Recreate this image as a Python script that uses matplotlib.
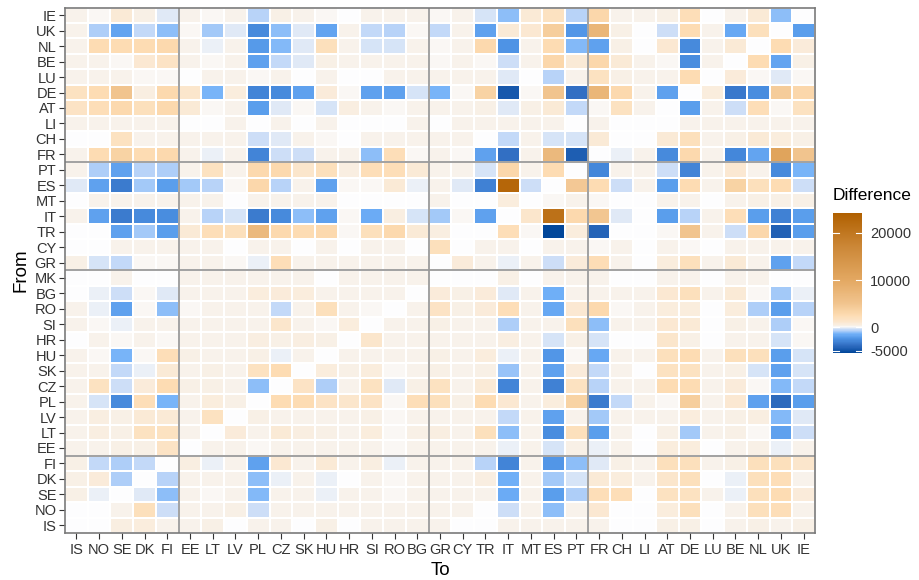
import matplotlib.pyplot as plt
import numpy as np
from matplotlib.colors import LinearSegmentedColormap, Normalize

plt.rcParams['font.family'] = ['Liberation Sans', 'DejaVu Sans']
plt.rcParams['axes.unicode_minus'] = False

# columns (To) and rows (From, top to bottom)
to_countries = ['IS', 'NO', 'SE', 'DK', 'FI', 'EE', 'LT', 'LV', 'PL', 'CZ', 'SK', 'HU', 'HR', 'SI', 'RO', 'BG',
                'GR', 'CY', 'TR', 'IT', 'MT', 'ES', 'PT', 'FR', 'CH', 'LI', 'AT', 'DE', 'LU', 'BE', 'NL', 'UK', 'IE']
from_countries = ['IE', 'UK', 'NL', 'BE', 'LU', 'DE', 'AT', 'LI', 'CH', 'FR',
                  'PT', 'ES', 'MT', 'IT', 'TR', 'CY', 'GR',
                  'MK', 'BG', 'RO', 'SI', 'HR', 'HU', 'SK', 'CZ', 'PL', 'LV', 'LT', 'EE',
                  'FI', 'DK', 'SE', 'NO', 'IS']

# difference values, one row per "From" country (order of to_countries)
diff_IE = [300, 100, 800, 400, -200, 200, 100, 300, -700, 400, 200, 100, 0, 200, 200, 300, 100, 300, -300, -1100, 800, 1800, -700, 3000, 200, 300, 400, 2200, 0, 300, 800, -1100, 0]
diff_UK = [300, -800, -1800, -600, -1200, 100, -900, -200, -2800, -1100, -250, -1800, 200, -600, -650, 100, -600, 300, -2000, 800, 1000, 4000, -2300, 7500, 400, 0, -400, 2500, 300, -1700, 2000, 0, -2100]
diff_NL = [300, 2500, 2500, 2500, 2800, 300, -150, 200, -2200, -1300, -200, 2000, 200, -300, -300, 200, 100, 300, 2800, -2400, 200, 2500, -1300, -2000, 400, 0, 900, -2800, 300, 800, 0, 2500, 700]
diff_BE = [300, 200, 100, 1000, 1500, 200, 150, 300, -2000, -600, -200, 400, 300, 300, 200, 200, 100, 300, 100, -450, 300, 3000, 800, 3000, 800, 300, 100, -2700, 300, 0, 2500, -1800, 400]
diff_LU = [300, 200, 200, 150, 150, 0, 300, 300, 100, 300, 0, 300, 0, 0, 300, 300, 300, 300, 200, -250, 0, -700, 300, 1800, 400, 300, 300, 2500, 0, 700, 100, -250, 100]
diff_DE = [1800, 2500, 5000, 500, 2800, 1200, -1400, 600, -3000, -2800, -1900, 700, 100, -1900, -1900, -350, -1400, 100, 3500, -4800, 100, 5000, -3800, 7500, 2800, 300, -2000, 0, 600, -3500, -2700, 4200, 3000]
diff_AT = [1500, 2200, 2800, 2000, 2800, 800, 100, 300, -2100, -250, 100, -350, 500, 300, 100, 200, 200, 300, 400, -250, 400, 800, -600, 100, 1800, 300, 0, -2100, 300, -450, 2200, 100, 1800]
diff_LI = [300, 300, 300, 200, 200, 0, 0, 300, 0, 300, 0, 200, 0, 0, 0, 300, 0, 300, 300, 300, 300, 300, 0, 300, 0, 0, 0, 300, 300, 300, 300, 300, 300]
diff_CH = [0, 0, 1800, 300, 200, 300, 300, 300, -400, -200, 200, 100, 0, 300, 300, 300, 300, 300, 0, -600, 300, -300, -300, 800, 0, 0, 800, 2000, 300, 400, 800, 600, 400]
diff_FR = [300, 2500, 3500, 2500, 2800, 200, -150, 200, -3000, -500, -500, 300, 300, -1100, 2200, 100, 300, 100, -2000, -3800, 300, 7000, -4500, 0, -100, 300, -2800, 2800, 300, -2900, -1800, 11000, 5000]
diff_PT = [300, -800, -2000, -700, -800, 300, 1800, 300, 2800, 2800, 1200, 2000, 500, 2200, 2200, 800, 300, 300, -300, 3000, 300, 2500, 0, -2900, 200, 300, -450, -3000, 300, 1000, 300, -2800, -1400]
diff_ES = [-200, -2000, -3300, -900, -2100, -900, -700, 100, 3000, -700, 200, -2000, 100, 100, 800, -150, 300, -200, -3100, 23000, -500, 0, 4500, 2500, -500, 300, -2100, 2500, 300, 3500, 2000, 2500, -450]
diff_MT = [0, 300, 300, 300, 300, 300, 300, 0, 300, 300, 300, 300, 0, 0, 0, 0, 300, 0, 0, 600, 0, 100, 300, 100, 0, 0, 300, 300, 0, 300, 400, 400, 400]
diff_IT = [300, -2000, -3300, -2800, -2700, 300, -700, -300, -3300, -2800, -1100, -2000, 100, -1600, 500, -350, -950, 100, -2000, 0, 1200, 21000, 2800, 4800, -250, 0, -2100, -700, 300, 2200, -2100, -3100, -2100]
diff_TR = [0, 0, -2000, -900, -2100, 800, 2200, 2000, 7000, 2800, 2500, 2800, 100, 2000, 2800, 800, 500, 0, 0, 2200, 100, -5400, 600, -4300, 0, 0, 100, 5000, 300, -500, 3000, -4400, -2100]
diff_CY = [0, 0, 300, 300, 300, 300, 300, 0, 300, 300, 0, 300, 0, 300, 300, 0, 2000, 0, 300, 300, 0, 300, 300, 100, 300, 0, 300, 100, 0, 300, 300, 300, 300]
diff_GR = [400, -300, -550, 100, 100, 300, 300, 150, -100, 2200, 300, 300, 300, 300, 300, 300, 0, 700, 300, -100, 300, -500, 700, 2300, 300, 0, 600, 2000, 300, 800, 300, -2000, -600]
diff_MK = [0, 0, 300, 0, 0, 300, 300, 300, 300, 300, 200, 0, 300, 300, 300, 300, 0, 0, 0, 400, 0, 300, 300, 300, 0, 0, 300, 300, 0, 300, 300, 0, 0]
diff_BG = [0, -100, -500, 100, -250, 300, 300, 300, 600, 700, 600, 300, 300, 300, 300, 0, 700, 400, 700, -200, 300, -1500, 300, 300, 300, 300, 1000, 2000, 300, 800, 100, -950, -100]
diff_RO = [300, -150, -2000, 100, -1200, 100, 200, 200, 200, -550, 300, 2000, 300, 100, 0, 300, 1500, 400, 700, 2200, 300, -1700, 900, 2800, 100, 300, 600, 600, 0, 600, -800, -2100, -700]
diff_SI = [300, 100, -100, 200, 200, 200, 300, 300, 300, 1200, 300, 100, 600, 0, 300, 300, 400, 300, 300, -850, 300, 300, 2000, -1100, 300, 300, 1000, 800, 0, 400, 300, -850, 100]
diff_HR = [0, 200, 100, 200, 100, 300, 300, 300, 500, 400, 500, 400, 0, 1200, 300, 300, 300, 300, 300, 500, 300, -300, 400, -300, 0, 0, 1200, 400, 0, 300, 300, -350, 100]
diff_HU = [300, 100, -1400, 100, 2200, 400, 300, 300, 400, -150, 300, 0, 300, 300, 300, 300, 400, 300, 600, -150, 300, -2300, 100, -1700, 300, 300, 2000, 2500, 300, 2000, 2000, -2100, -300]
diff_SK = [300, 200, -600, -100, 800, 300, 400, 300, 1800, 2500, 0, 600, 400, 600, 100, 300, 400, 300, 400, -1000, 300, -2000, 700, -600, 300, 0, 1800, 1800, 300, 400, -350, -2000, -300]
diff_CZ = [300, 1800, -500, 700, 2500, 400, 400, 300, -1200, 0, 1500, -750, 300, 1800, -200, 400, 1800, 300, 800, -3000, 300, -3100, 1800, -700, 300, 300, 2500, 2500, 300, 700, 100, -1300, -550]
diff_PL = [200, -350, -2800, 2200, -1400, 300, 600, 400, 0, 2500, 2500, 1500, 1200, 1500, 100, 2200, 2000, 400, 2500, 1000, 300, 600, 3500, -3400, -600, 300, 100, 4000, 300, 1000, -2000, -4000, -2100]
diff_LV = [300, 500, 400, 800, 800, 300, 1800, 0, 400, 300, 300, 300, 300, 400, 100, 300, 300, 300, 300, -550, 300, -2000, 300, -950, 300, 300, 300, 600, 300, 400, 500, -1300, -250]
diff_LT = [300, 500, 400, 1800, 1800, 300, 0, 700, 300, 800, 500, 400, 300, 600, 100, 400, 500, 300, 2000, -1100, 300, -2700, 2000, -2100, 300, 0, 400, -950, 300, 400, 100, -2000, -400]
diff_EE = [300, 300, 400, 400, 1500, 0, 300, 300, 100, 300, 300, 300, 300, 300, 100, 300, 300, 300, 300, -100, 300, -350, 400, -150, 300, 0, 600, 600, 0, 300, 400, -150, 200]
diff_FI = [400, -600, -750, -600, 0, 500, -100, 300, -2000, 1000, 300, 800, 300, 500, -150, 300, 200, 300, -700, -3000, 300, -2300, -1100, -250, 400, 300, 2000, 2000, 300, 400, 2000, 2000, 1200]
diff_DK = [400, 700, -800, 0, -700, 300, 200, 300, -1100, -150, 200, -100, 0, 300, 100, 300, 200, 300, 500, -1500, 300, -900, -300, 800, 600, 300, 1200, 2000, 0, -100, 2000, 2200, 300]
diff_SE = [400, -100, 0, -250, -1200, 300, 100, 200, -1300, 300, 300, -100, 300, 300, 100, 300, 300, 300, 300, -1600, 300, -2100, -800, 2200, 2200, 0, 1800, 1800, 300, -100, 2000, 2500, 700]
diff_NO = [0, 0, 300, 2000, -400, 300, 300, 400, -450, 300, 300, 300, 300, 300, 200, 300, 300, 300, 0, -450, 300, -1100, 300, 1000, 0, 0, 600, 2000, 0, 300, 2000, 2200, 300]
diff_IS = [0, 0, 500, 600, 300, 300, 400, 0, 300, 300, 0, 400, 0, 300, 300, 300, 300, 0, 0, 300, 300, 300, 300, 300, 0, 0, 400, 400, 0, 300, 400, 300, 400]

# where the region separators go (after n columns / rows)
col_breaks = [5, 16, 23]
row_breaks = [10, 17, 29]

Z = np.array([diff_IE, diff_UK, diff_NL, diff_BE, diff_LU, diff_DE, diff_AT, diff_LI, diff_CH, diff_FR,
              diff_PT, diff_ES, diff_MT, diff_IT, diff_TR, diff_CY, diff_GR,
              diff_MK, diff_BG, diff_RO, diff_SI, diff_HR, diff_HU, diff_SK, diff_CZ, diff_PL, diff_LV, diff_LT, diff_EE,
              diff_FI, diff_DK, diff_SE, diff_NO, diff_IS], dtype=float)

# colour scale
vmin, vmax = -5500, 24250
stops = [(-5500, '#02479a'), (-4000, '#2f6cc0'), (-2500, '#4d92e4'), (-1500, '#70b0f8'),
         (-700, '#bad4f8'), (-150, '#e9eef6'), (0, '#ffffff'), (150, '#f7f3ee'),
         (400, '#f9efe3'), (1000, '#fbe7cf'), (2500, '#fddcb2'), (5000, '#f1c48e'),
         (10000, '#e3a862'), (17000, '#cc8838'), (24250, '#b06000')]
cmap = LinearSegmentedColormap.from_list('diff', [((v - vmin) / (vmax - vmin), c) for v, c in stops])
norm = Normalize(vmin, vmax)

fig = plt.figure(figsize=(9.19, 5.8), dpi=100)
ax = fig.add_axes([65 / 919, 1 - 533 / 580, 750 / 919, 525.5 / 580])

mesh = ax.pcolormesh(np.arange(len(to_countries) + 1), np.arange(len(from_countries) + 1), Z,
                     cmap=cmap, norm=norm, edgecolors='white', linewidth=0.3)
ax.set_xlim(0, len(to_countries))
ax.set_ylim(len(from_countries), 0)

for b in col_breaks:
    ax.axvline(b, color='#9a9a9a', lw=1.3)
for b in row_breaks:
    ax.axhline(b, color='#9a9a9a', lw=1.3)

ax.set_xticks(np.arange(len(to_countries)) + 0.5)
ax.set_xticklabels(to_countries)
ax.set_yticks(np.arange(len(from_countries)) + 0.5)
ax.set_yticklabels(from_countries)
ax.tick_params(axis='both', labelsize=10.5, colors='#333333', length=4, width=0.8, pad=2)
ax.tick_params(axis='x', pad=3)
for s in ax.spines.values():
    s.set_color('#7a7a7a')
    s.set_linewidth(1.2)

ax.set_xlabel('To', fontsize=13.5, labelpad=4)
ax.set_ylabel('From', fontsize=13.5, labelpad=4)

# legend colour bar
cax = fig.add_axes([833 / 919, 1 - 353 / 580, 29 / 919, 140 / 580])
cb = fig.colorbar(mesh, cax=cax)
cb.outline.set_visible(False)
cb.set_ticks([-5000, 0, 10000, 20000])
cb.ax.tick_params(length=0, labelsize=10.5, colors='#333333', pad=6)
for t in [-5000, 0, 10000, 20000]:
    cax.axhline(t, xmin=0, xmax=0.2, color='white', lw=0.8)
    cax.axhline(t, xmin=0.8, xmax=1, color='white', lw=0.8)
fig.text(833 / 919, 1 - 196 / 580, 'Difference', fontsize=12.5, va='center', ha='left')

fig.savefig('out.png', dpi=100)
